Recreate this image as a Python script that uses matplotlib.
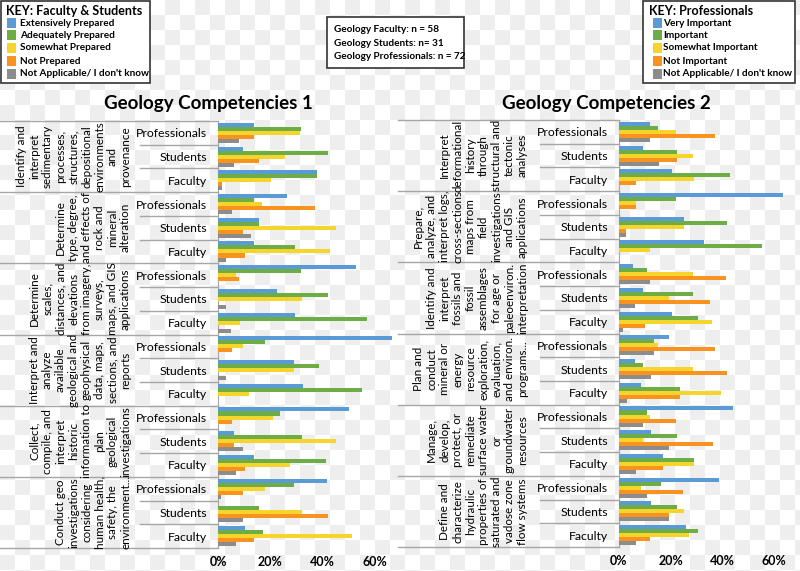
import numpy as np
import matplotlib
matplotlib.use("Agg")
import matplotlib.pyplot as plt
from matplotlib.colors import ListedColormap
from matplotlib.patches import Rectangle
from matplotlib.lines import Line2D
import matplotlib.transforms as mtransforms

plt.rcParams['font.family'] = ['Lato', 'DejaVu Sans']

W, H = 800, 571

# colours of the five answer levels
colors = ["#5B9BD5", "#6EAD46", "#F5D52B", "#F7931E", "#8C8C8C"]

respondents = ["Professionals", "Students", "Faculty"]

# ---- Geology Competencies 1 (percent, order: group x [Professionals, Students, Faculty])
comp1_groups = [
    "Identify and\ninterpret\nsedimentary\nprocesses,\nstructures,\ndepositional\nenvironments\nand\nprovenance",
    "Determine\ntype, degree,\nand effects of\nrock and\nmineral\nalteration",
    "Determine\nscales,\ndistances, and\nelevations\nfrom imagery,\nsurveys,\nmaps, and GIS\napplications",
    "Interpret and\nanalyze\navailable\ngeological and\ngeophysical\ndata, maps,\nsections, and\nreports",
    "Collect,\ncompile, and\ninterpret\nhistoric\ninformation to\nplan\ngeological\ninvestigations",
    "Conduct geo\ninvestigations\nconsidering\nhuman health,\nsafety, the\nenvironment...",
]
comp1_extensive = [13.8, 9.7, 37.8, 26.4, 15.8, 13.8, 52.7, 22.4, 29.2,
                   68.0, 28.9, 32.6, 50.0, 6.2, 13.8, 41.7, 0.0, 10.3]
comp1_adequate = [31.6, 41.8, 37.8, 13.8, 15.8, 29.2, 31.6, 41.8, 56.8,
                  18.0, 38.5, 54.8, 23.6, 32.0, 41.4, 28.9, 15.8, 17.0]
comp1_somewhat = [31.4, 25.7, 20.4, 16.6, 45.0, 42.8, 7.0, 32.0, 8.4,
                  9.7, 28.9, 11.8, 20.8, 45.0, 27.3, 18.0, 32.0, 51.3]
comp1_notprep = [13.8, 15.8, 1.7, 37.2, 9.7, 10.3, 8.0, 0.0, 0.0,
                 5.3, 0.0, 0.0, 5.3, 6.2, 10.3, 9.7, 41.8, 13.8]
comp1_na = [8.0, 6.2, 1.7, 5.3, 12.7, 3.2, 0.0, 3.2, 5.0,
            0.0, 3.2, 0.0, 0.0, 9.7, 6.9, 1.3, 9.7, 6.9]

# ---- Geology Competencies 2
comp2_groups = [
    "Interpret\ndeformational\nhistory\nthrough\nstructural and\ntectonic\nanalyses",
    "Prepare,\nanalyze, and\ninterpret logs,\ncross-sections\nmaps from\nfield\ninvestigations\nand GIS\napplications",
    "Identify and\ninterpret\nfossils and\nfossil\nassemblages\nfor age or\npaleoenviron.\ninterpretation",
    "Plan and\nconduct\nmineral or\nenergy\nresource\nexploration,\nevaluation,\nand environ.\nprograms...",
    "Manage,\ndevelop,\nprotect, or\nremediate\nsurface water\nor\ngroundwater\nresources",
    "Define and\ncharacterize\nhydraulic\nproperties of\nsaturated and\nvadose zone\nflow systems",
]
comp2_very = [12.1, 9.4, 20.4, 63.6, 25.3, 32.9, 5.3, 9.4, 20.4,
              19.2, 6.3, 8.4, 44.3, 12.5, 17.0, 38.6, 12.5, 25.8]
comp2_important = [15.1, 22.3, 43.0, 21.9, 41.7, 55.2, 10.7, 28.8, 30.7,
                   13.4, 9.4, 23.7, 10.7, 22.3, 29.2, 16.4, 22.3, 30.7]
comp2_somewhat = [21.9, 28.8, 29.2, 6.5, 25.3, 11.9, 28.8, 19.2, 36.0,
                  15.1, 28.8, 39.6, 12.1, 9.4, 29.2, 8.4, 25.3, 27.2]
comp2_notimp = [37.3, 22.3, 6.5, 6.5, 2.7, 0.0, 41.4, 35.1, 9.9,
                37.3, 41.7, 23.7, 21.9, 36.6, 17.0, 24.9, 19.2, 11.9]
comp2_na = [12.1, 15.6, 0.0, 0.0, 2.7, 0.0, 12.1, 6.3, 1.4,
            13.4, 12.5, 3.1, 9.4, 19.2, 6.7, 10.7, 19.2, 6.7]

key1_title = "KEY: Faculty & Students"
key1_labels = ["Extensively Prepared", "Adequately Prepared", "Somewhat Prepared",
               "Not Prepared", "Not Applicable/ I don't know"]
key2_title = "KEY: Professionals"
key2_labels = ["Very Important", "Important", "Somewhat Important",
               "Not Important", "Not Applicable/ I don't know"]
n_lines = ["Geology Faculty: n = 58", "Geology Students: n= 31",
           "Geology Professionals: n = 72"]


def fx(x):
    return x / W


def fy(y):
    return 1 - y / H


fig = plt.figure(figsize=(8, 5.71), dpi=100)

# transparent-image checkerboard behind everything
bg = fig.add_axes([0, 0, 1, 1], zorder=-10)
sq = 15
nx, ny = W // sq + 1, H // sq + 1
checker = (np.add.outer(np.arange(ny), np.arange(nx)) % 2)
bg.imshow(checker, cmap=ListedColormap(["#FFFFFF", "#EEEEEE"]),
          extent=[0, nx * sq, ny * sq, 0], interpolation="nearest", aspect="auto")
bg.set_xlim(0, W)
bg.set_ylim(H, 0)
bg.axis("off")


def panel(left_px, right_px, top_px, bot_px, xmax, series, groups, title, title_x,
          label_right, sep_left, short_left):
    ax = fig.add_axes([fx(left_px), fy(bot_px), fx(right_px - left_px),
                       (bot_px - top_px) / H])
    ax.set_facecolor("none")
    n = len(groups) * 3
    pos = np.arange(n)
    h = 0.17
    for k, vals in enumerate(series):
        ax.barh(pos + (k - 2) * h, np.array(vals) / 100, height=h,
                color=colors[k], zorder=3)
    ax.set_ylim(n - 0.5, -0.5)
    ax.set_xlim(0, xmax)
    ax.set_yticks(pos)
    ax.set_yticklabels(respondents * len(groups), fontsize=8.8)
    ax.tick_params(axis="y", length=0, pad=8)
    ax.set_xticks([0, 0.2, 0.4, 0.6])
    ax.set_xticklabels(["0%", "20%", "40%", "60%"], fontsize=9, fontweight="bold")
    ax.tick_params(axis="x", length=0, pad=6)
    for s in ["top", "right", "bottom"]:
        ax.spines[s].set_visible(False)
    ax.spines["left"].set_color("#A6A6A6")

    tr = mtransforms.blended_transform_factory(fig.transFigure, ax.transData)
    for g in range(len(groups) + 1):
        y = 3 * g - 0.5
        ax.add_line(Line2D([fx(sep_left), fx(left_px)], [y, y], transform=tr,
                           color="#A6A6A6", lw=1, clip_on=False))
    for g in range(len(groups)):
        for j in (0.5, 1.5):
            y = 3 * g + j
            ax.add_line(Line2D([fx(short_left), fx(left_px)], [y, y], transform=tr,
                               color="#A6A6A6", lw=1, clip_on=False))
        ax.text(fx(label_right), 3 * g + 1, groups[g], transform=tr, rotation=90,
                ha="right", va="center", multialignment="center", fontsize=8.4,
                linespacing=1.22)
    fig.text(fx(title_x), fy(103), title, ha="center", va="center",
             fontsize=13.5, fontweight="bold")
    return ax


panel(218, 392, 121, 548, 0.664,
      [comp1_extensive, comp1_adequate, comp1_somewhat, comp1_notprep, comp1_na],
      comp1_groups, "Geology Competencies 1", 208, 131, 0, 140)
panel(619, 785, 120, 547, 0.643,
      [comp2_very, comp2_important, comp2_somewhat, comp2_notimp, comp2_na],
      comp2_groups, "Geology Competencies 2", 606, 528, 398, 540)


def key_box(x0, x1, y0, y1, title, labels, tx, sqx, lx, rows):
    fig.patches.append(Rectangle((fx(x0), fy(y1)), fx(x1 - x0), (y1 - y0) / H,
                                 transform=fig.transFigure, facecolor="white",
                                 edgecolor="#333333", lw=1.2, zorder=5))
    fig.text(fx(tx), fy(11), title, ha="left", va="center", fontsize=9.0,
             fontweight="bold", zorder=6)
    for k, lab in enumerate(labels):
        fig.patches.append(Rectangle((fx(sqx), fy(rows[k] + 4.5)), fx(9), 9 / H,
                                     transform=fig.transFigure, facecolor=colors[k],
                                     edgecolor="none", zorder=6))
        fig.text(fx(lx), fy(rows[k]), lab, ha="left", va="center", fontsize=7.2,
                 fontweight="bold", zorder=6)


rows = [23, 35, 48, 61, 74]
key_box(1, 150, 1, 83, key1_title, key1_labels, 6, 7, 20, rows)
key_box(643, 795, 1, 83, key2_title, key2_labels, 649, 653, 663, rows)

fig.patches.append(Rectangle((fx(327), fy(68)), fx(137), 51 / H,
                             transform=fig.transFigure, facecolor="white",
                             edgecolor="#333333", lw=1.2, zorder=5))
for k, t in enumerate(n_lines):
    fig.text(fx(334), fy(29.5 + 13.5 * k), t, ha="left", va="center",
             fontsize=7.2, fontweight="bold", zorder=6)

fig.savefig("out.png", dpi=100)
